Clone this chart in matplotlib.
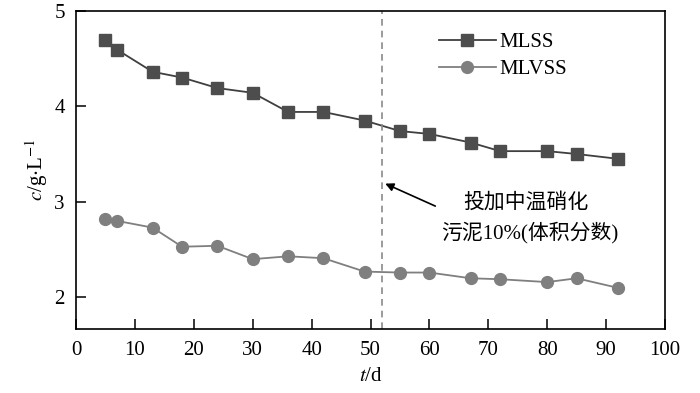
import matplotlib

matplotlib.use("Agg")
import matplotlib.pyplot as plt

# days of sampling
days = [5, 7, 13, 18, 24, 30, 36, 42, 49, 55, 60, 67, 72, 80, 85, 92]
mlss = [4.69, 4.59, 4.36, 4.30, 4.19, 4.14, 3.94, 3.94, 3.85, 3.74, 3.71, 3.62, 3.53, 3.53, 3.50, 3.45]
mlvss = [2.82, 2.80, 2.73, 2.53, 2.54, 2.40, 2.43, 2.41, 2.27, 2.26, 2.26, 2.20, 2.19, 2.16, 2.20, 2.10]
dose_day = 52
x_ticks = [0, 10, 20, 30, 40, 50, 60, 70, 80, 90, 100]
y_ticks = [2, 3, 4, 5]

plt.rcParams["font.family"] = ["Liberation Serif", "Noto Sans CJK SC"]
plt.rcParams["mathtext.fontset"] = "stix"

fig = plt.figure(figsize=(7.0, 3.93), dpi=100)
ax = fig.add_axes([0.1086, 0.163, 0.8414, 0.810])

ax.plot(days, mlss, color="#3f3f3f", linewidth=1.3, marker="s", markersize=8,
        markerfacecolor="#4d4d4d", markeredgecolor="#4d4d4d", label="MLSS")
ax.plot(days, mlvss, color="#7f7f7f", linewidth=1.3, marker="o", markersize=8.5,
        markerfacecolor="#7f7f7f", markeredgecolor="#7f7f7f", label="MLVSS")
ax.axvline(dose_day, color="#8a8a8a", linestyle=(0, (4, 3)), linewidth=1.2)

ax.annotate("", xy=(52.5, 3.19), xytext=(61, 2.955),
            arrowprops=dict(arrowstyle="-|>", color="black", lw=1.2,
                            mutation_scale=12, shrinkA=0, shrinkB=0))
ax.text(76.3, 2.99, "投加中温硝化", ha="center", va="center", fontsize=15)
ax.text(77.0, 2.675, "污泥10%(体积分数)", ha="center", va="center", fontsize=15)

ax.set_xlim(0, 100)
ax.set_ylim(1.67, 5)
ax.set_xticks(x_ticks)
ax.set_yticks(y_ticks)
ax.tick_params(direction="in", length=7, width=1.1, labelsize=15)
ax.tick_params(axis="x", pad=9)
ax.tick_params(axis="y", pad=8)
for s in ax.spines.values():
    s.set_linewidth(1.2)

ax.set_xlabel(r"$\it{t}$/d", fontsize=15, labelpad=5)
ax.set_ylabel(r"$\it{c}$/g$\cdot$L$^{-1}$", fontsize=15, labelpad=3)

ax.legend(loc="upper left", bbox_to_anchor=(0.585, 0.99), frameon=False,
          fontsize=15, handlelength=2.7, handletextpad=0.2, labelspacing=0.35)

fig.savefig("out.png", dpi=100)
